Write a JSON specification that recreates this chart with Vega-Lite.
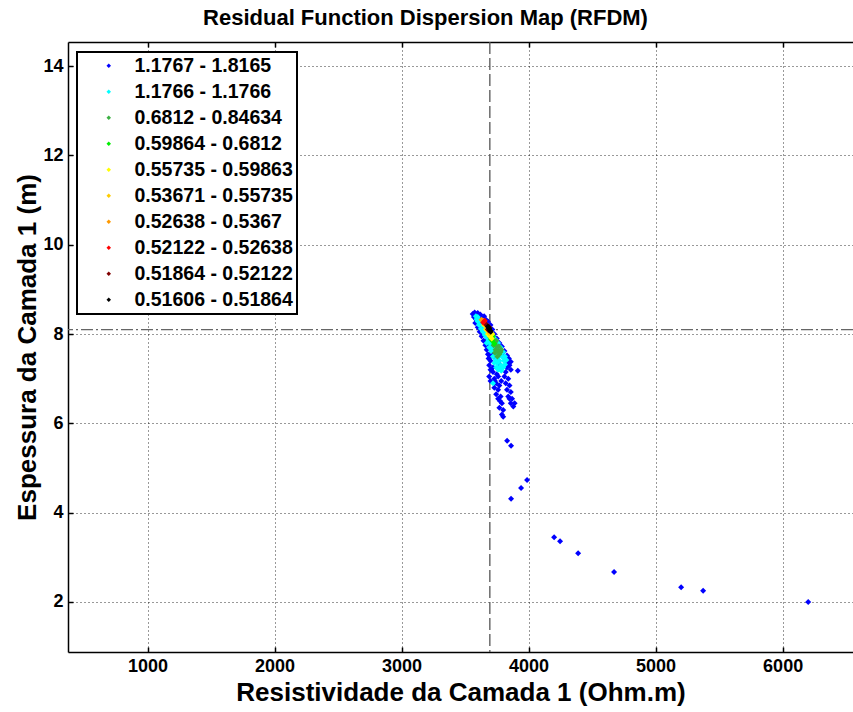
{
  "$schema": "https://vega.github.io/schema/vega-lite/v6.json",
  "width": 785,
  "height": 610,
  "autosize": {"type": "none"},
  "padding": {"left": 68, "top": 42, "right": 0, "bottom": 60},
  "background": "white",
  "title": {"text": "Residual Function Dispersion Map (RFDM)", "font": "Liberation Sans", "fontSize": 22, "fontWeight": "bold", "anchor": "middle", "dx": -35, "offset": 11, "color": "#000"},
  "config": {
    "view": {"stroke": null},
    "axis": {"labelFont": "Liberation Sans", "labelFontWeight": "bold", "labelFontSize": 18, "labelColor": "#000", "titleFont": "Liberation Sans", "titleFontWeight": "bold", "titleFontSize": 26, "titleColor": "#000", "domainColor": "#000", "domainWidth": 1.5, "tickColor": "#000", "tickWidth": 1.5, "tickSize": -5, "gridColor": "#000", "gridDash": [1, 3], "gridOpacity": 0.8, "gridWidth": 1, "format": "d"},
    "legend": {"strokeWidth": 2}
  },
  "layer": [
    {
      "data": {"values": [{"R": 3695}]},
      "mark": {"type": "rule", "color": "#555", "strokeDash": [12, 4], "strokeWidth": 1.3},
      "encoding": {"x": {"field": "R", "type": "quantitative", "scale": {"domain": [374, 6554], "nice": false, "zero": false}, "axis": {"orient": "top", "labels": false, "title": null, "grid": false, "values": [1000, 2000, 3000, 4000, 5000, 6000]}}}
    },
    {
      "data": {"values": [{"E": 8.1}]},
      "mark": {"type": "rule", "color": "#666", "strokeDash": [12, 3, 2, 3], "strokeWidth": 1.3},
      "encoding": {"y": {"field": "E", "type": "quantitative", "scale": {"domain": [0.88, 14.54], "nice": false, "zero": false}, "axis": {"title": "Espessura da Camada 1 (m)", "values": [2, 4, 6, 8, 10, 12, 14], "grid": true, "labelPadding": 10, "titlePadding": 2}}}
    },
    {
      "data": {"values": [
        {"R":3560,"E":8.45,"f":"1.1767 - 1.8165"},{"R":3575,"E":8.48,"f":"1.1767 - 1.8165"},{"R":3590,"E":8.42,"f":"1.1767 - 1.8165"},{"R":3600,"E":8.47,"f":"1.1767 - 1.8165"},{"R":3620,"E":8.44,"f":"1.1767 - 1.8165"},{"R":3570,"E":8.38,"f":"1.1767 - 1.8165"},{"R":3585,"E":8.33,"f":"1.1767 - 1.8165"},{"R":3605,"E":8.30,"f":"1.1767 - 1.8165"},{"R":3630,"E":8.35,"f":"1.1767 - 1.8165"},{"R":3640,"E":8.25,"f":"1.1767 - 1.8165"},{"R":3615,"E":8.20,"f":"1.1767 - 1.8165"},{"R":3650,"E":8.15,"f":"1.1767 - 1.8165"},{"R":3625,"E":8.10,"f":"1.1767 - 1.8165"},{"R":3660,"E":8.05,"f":"1.1767 - 1.8165"},{"R":3640,"E":8.00,"f":"1.1767 - 1.8165"},{"R":3680,"E":7.95,"f":"1.1767 - 1.8165"},{"R":3700,"E":7.90,"f":"1.1767 - 1.8165"},{"R":3660,"E":7.85,"f":"1.1767 - 1.8165"},{"R":3720,"E":7.82,"f":"1.1767 - 1.8165"},{"R":3690,"E":7.75,"f":"1.1767 - 1.8165"},{"R":3740,"E":7.72,"f":"1.1767 - 1.8165"},{"R":3700,"E":7.65,"f":"1.1767 - 1.8165"},{"R":3760,"E":7.65,"f":"1.1767 - 1.8165"},{"R":3720,"E":7.55,"f":"1.1767 - 1.8165"},{"R":3780,"E":7.58,"f":"1.1767 - 1.8165"},{"R":3700,"E":7.50,"f":"1.1767 - 1.8165"},{"R":3800,"E":7.50,"f":"1.1767 - 1.8165"},{"R":3740,"E":7.45,"f":"1.1767 - 1.8165"},{"R":3820,"E":7.42,"f":"1.1767 - 1.8165"},{"R":3700,"E":7.40,"f":"1.1767 - 1.8165"},{"R":3760,"E":7.35,"f":"1.1767 - 1.8165"},{"R":3840,"E":7.35,"f":"1.1767 - 1.8165"},{"R":3690,"E":7.30,"f":"1.1767 - 1.8165"},{"R":3780,"E":7.28,"f":"1.1767 - 1.8165"},{"R":3830,"E":7.25,"f":"1.1767 - 1.8165"},{"R":3850,"E":7.30,"f":"1.1767 - 1.8165"},{"R":3700,"E":7.20,"f":"1.1767 - 1.8165"},{"R":3720,"E":7.15,"f":"1.1767 - 1.8165"},{"R":3750,"E":7.10,"f":"1.1767 - 1.8165"},{"R":3820,"E":7.15,"f":"1.1767 - 1.8165"},{"R":3860,"E":7.20,"f":"1.1767 - 1.8165"},{"R":3915,"E":7.18,"f":"1.1767 - 1.8165"},{"R":3690,"E":7.05,"f":"1.1767 - 1.8165"},{"R":3730,"E":7.00,"f":"1.1767 - 1.8165"},{"R":3760,"E":7.05,"f":"1.1767 - 1.8165"},{"R":3810,"E":7.05,"f":"1.1767 - 1.8165"},{"R":3840,"E":7.00,"f":"1.1767 - 1.8165"},{"R":3700,"E":6.95,"f":"1.1767 - 1.8165"},{"R":3745,"E":6.90,"f":"1.1767 - 1.8165"},{"R":3770,"E":6.85,"f":"1.1767 - 1.8165"},{"R":3820,"E":6.90,"f":"1.1767 - 1.8165"},{"R":3850,"E":6.85,"f":"1.1767 - 1.8165"},{"R":3730,"E":6.80,"f":"1.1767 - 1.8165"},{"R":3760,"E":6.75,"f":"1.1767 - 1.8165"},{"R":3830,"E":6.75,"f":"1.1767 - 1.8165"},{"R":3860,"E":6.70,"f":"1.1767 - 1.8165"},{"R":3745,"E":6.65,"f":"1.1767 - 1.8165"},{"R":3780,"E":6.60,"f":"1.1767 - 1.8165"},{"R":3840,"E":6.60,"f":"1.1767 - 1.8165"},{"R":3870,"E":6.55,"f":"1.1767 - 1.8165"},{"R":3760,"E":6.55,"f":"1.1767 - 1.8165"},{"R":3790,"E":6.45,"f":"1.1767 - 1.8165"},{"R":3860,"E":6.45,"f":"1.1767 - 1.8165"},{"R":3890,"E":6.45,"f":"1.1767 - 1.8165"},{"R":3770,"E":6.35,"f":"1.1767 - 1.8165"},{"R":3800,"E":6.30,"f":"1.1767 - 1.8165"},{"R":3880,"E":6.38,"f":"1.1767 - 1.8165"},{"R":3790,"E":6.20,"f":"1.1767 - 1.8165"},{"R":3800,"E":6.15,"f":"1.1767 - 1.8165"},
        {"R":3580,"E":8.25,"f":"1.1767 - 1.8165"},{"R":3600,"E":8.15,"f":"1.1767 - 1.8165"},{"R":3615,"E":8.05,"f":"1.1767 - 1.8165"},{"R":3630,"E":7.95,"f":"1.1767 - 1.8165"},{"R":3645,"E":7.85,"f":"1.1767 - 1.8165"},{"R":3660,"E":7.75,"f":"1.1767 - 1.8165"},{"R":3670,"E":7.65,"f":"1.1767 - 1.8165"},{"R":3680,"E":7.55,"f":"1.1767 - 1.8165"},{"R":3685,"E":7.45,"f":"1.1767 - 1.8165"},{"R":3650,"E":8.40,"f":"1.1767 - 1.8165"},{"R":3665,"E":8.32,"f":"1.1767 - 1.8165"},{"R":3680,"E":8.28,"f":"1.1767 - 1.8165"},{"R":3700,"E":8.20,"f":"1.1767 - 1.8165"},{"R":3715,"E":8.10,"f":"1.1767 - 1.8165"},{"R":3730,"E":8.00,"f":"1.1767 - 1.8165"},{"R":3750,"E":7.90,"f":"1.1767 - 1.8165"},{"R":3770,"E":7.80,"f":"1.1767 - 1.8165"},{"R":3790,"E":7.72,"f":"1.1767 - 1.8165"},{"R":3810,"E":7.62,"f":"1.1767 - 1.8165"},{"R":3830,"E":7.52,"f":"1.1767 - 1.8165"},{"R":3845,"E":7.45,"f":"1.1767 - 1.8165"},{"R":3860,"E":7.38,"f":"1.1767 - 1.8165"},{"R":3720,"E":7.25,"f":"1.1767 - 1.8165"},{"R":3735,"E":6.95,"f":"1.1767 - 1.8165"},{"R":3785,"E":6.95,"f":"1.1767 - 1.8165"},{"R":3850,"E":6.55,"f":"1.1767 - 1.8165"},{"R":3775,"E":6.50,"f":"1.1767 - 1.8165"},
        {"R":3831,"E":5.61,"f":"1.1767 - 1.8165"},{"R":3862,"E":5.50,"f":"1.1767 - 1.8165"},{"R":3862,"E":4.31,"f":"1.1767 - 1.8165"},{"R":3941,"E":4.55,"f":"1.1767 - 1.8165"},{"R":3988,"E":4.73,"f":"1.1767 - 1.8165"},{"R":4201,"E":3.45,"f":"1.1767 - 1.8165"},{"R":4248,"E":3.36,"f":"1.1767 - 1.8165"},{"R":4390,"E":3.09,"f":"1.1767 - 1.8165"},{"R":4673,"E":2.67,"f":"1.1767 - 1.8165"},{"R":5201,"E":2.33,"f":"1.1767 - 1.8165"},{"R":5374,"E":2.25,"f":"1.1767 - 1.8165"},{"R":6201,"E":2.00,"f":"1.1767 - 1.8165"},
        {"R":3585,"E":8.40,"f":"1.1766 - 1.1766"},{"R":3600,"E":8.38,"f":"1.1766 - 1.1766"},{"R":3610,"E":8.32,"f":"1.1766 - 1.1766"},{"R":3625,"E":8.28,"f":"1.1766 - 1.1766"},{"R":3640,"E":8.20,"f":"1.1766 - 1.1766"},{"R":3655,"E":8.12,"f":"1.1766 - 1.1766"},{"R":3670,"E":8.05,"f":"1.1766 - 1.1766"},{"R":3690,"E":7.98,"f":"1.1766 - 1.1766"},{"R":3705,"E":7.92,"f":"1.1766 - 1.1766"},{"R":3720,"E":7.85,"f":"1.1766 - 1.1766"},{"R":3735,"E":7.78,"f":"1.1766 - 1.1766"},{"R":3750,"E":7.70,"f":"1.1766 - 1.1766"},{"R":3765,"E":7.62,"f":"1.1766 - 1.1766"},{"R":3780,"E":7.55,"f":"1.1766 - 1.1766"},{"R":3795,"E":7.48,"f":"1.1766 - 1.1766"},{"R":3805,"E":7.40,"f":"1.1766 - 1.1766"},{"R":3815,"E":7.32,"f":"1.1766 - 1.1766"},{"R":3800,"E":7.25,"f":"1.1766 - 1.1766"},{"R":3785,"E":7.30,"f":"1.1766 - 1.1766"},{"R":3770,"E":7.40,"f":"1.1766 - 1.1766"},{"R":3760,"E":7.48,"f":"1.1766 - 1.1766"},{"R":3745,"E":7.55,"f":"1.1766 - 1.1766"},{"R":3730,"E":7.62,"f":"1.1766 - 1.1766"},{"R":3715,"E":7.70,"f":"1.1766 - 1.1766"},{"R":3700,"E":7.78,"f":"1.1766 - 1.1766"},{"R":3685,"E":7.85,"f":"1.1766 - 1.1766"},{"R":3670,"E":7.92,"f":"1.1766 - 1.1766"},{"R":3655,"E":7.98,"f":"1.1766 - 1.1766"},{"R":3640,"E":8.05,"f":"1.1766 - 1.1766"},{"R":3625,"E":8.12,"f":"1.1766 - 1.1766"},{"R":3610,"E":8.20,"f":"1.1766 - 1.1766"},{"R":3600,"E":8.28,"f":"1.1766 - 1.1766"},{"R":3590,"E":8.33,"f":"1.1766 - 1.1766"},{"R":3730,"E":7.35,"f":"1.1766 - 1.1766"},{"R":3745,"E":7.25,"f":"1.1766 - 1.1766"},{"R":3760,"E":7.20,"f":"1.1766 - 1.1766"},{"R":3720,"E":6.90,"f":"1.1766 - 1.1766"},
        {"R":3700,"E":8.05,"f":"1.1766 - 1.1766"},{"R":3720,"E":7.95,"f":"1.1766 - 1.1766"},{"R":3740,"E":7.88,"f":"1.1766 - 1.1766"},{"R":3760,"E":7.80,"f":"1.1766 - 1.1766"},{"R":3780,"E":7.70,"f":"1.1766 - 1.1766"},{"R":3800,"E":7.60,"f":"1.1766 - 1.1766"},{"R":3815,"E":7.50,"f":"1.1766 - 1.1766"},{"R":3825,"E":7.42,"f":"1.1766 - 1.1766"},{"R":3670,"E":7.80,"f":"1.1766 - 1.1766"},{"R":3690,"E":7.70,"f":"1.1766 - 1.1766"},{"R":3705,"E":7.62,"f":"1.1766 - 1.1766"},{"R":3720,"E":7.50,"f":"1.1766 - 1.1766"},{"R":3740,"E":7.42,"f":"1.1766 - 1.1766"},{"R":3755,"E":7.35,"f":"1.1766 - 1.1766"},{"R":3770,"E":7.25,"f":"1.1766 - 1.1766"},{"R":3785,"E":7.18,"f":"1.1766 - 1.1766"},
        {"R":3720,"E":7.88,"f":"0.6812 - 0.84634"},{"R":3735,"E":7.80,"f":"0.6812 - 0.84634"},{"R":3750,"E":7.72,"f":"0.6812 - 0.84634"},{"R":3740,"E":7.65,"f":"0.6812 - 0.84634"},{"R":3760,"E":7.62,"f":"0.6812 - 0.84634"},{"R":3770,"E":7.55,"f":"0.6812 - 0.84634"},{"R":3755,"E":7.50,"f":"0.6812 - 0.84634"},{"R":3725,"E":7.75,"f":"0.6812 - 0.84634"},{"R":3780,"E":7.60,"f":"0.6812 - 0.84634"},{"R":3745,"E":7.85,"f":"0.6812 - 0.84634"},{"R":3765,"E":7.72,"f":"0.6812 - 0.84634"},{"R":3785,"E":7.65,"f":"0.6812 - 0.84634"},{"R":3735,"E":7.58,"f":"0.6812 - 0.84634"},
        {"R":3700,"E":7.92,"f":"0.59864 - 0.6812"},{"R":3715,"E":7.85,"f":"0.59864 - 0.6812"},{"R":3730,"E":7.78,"f":"0.59864 - 0.6812"},{"R":3705,"E":7.88,"f":"0.59864 - 0.6812"},{"R":3720,"E":7.95,"f":"0.59864 - 0.6812"},
        {"R":3650,"E":8.20,"f":"0.55735 - 0.59863"},{"R":3665,"E":8.10,"f":"0.55735 - 0.59863"},{"R":3680,"E":8.00,"f":"0.55735 - 0.59863"},{"R":3695,"E":7.95,"f":"0.55735 - 0.59863"},{"R":3685,"E":8.05,"f":"0.55735 - 0.59863"},{"R":3700,"E":7.98,"f":"0.55735 - 0.59863"},{"R":3710,"E":7.90,"f":"0.55735 - 0.59863"},{"R":3715,"E":8.00,"f":"0.55735 - 0.59863"},
        {"R":3640,"E":8.30,"f":"0.53671 - 0.55735"},{"R":3655,"E":8.22,"f":"0.53671 - 0.55735"},{"R":3670,"E":8.12,"f":"0.53671 - 0.55735"},{"R":3690,"E":8.02,"f":"0.53671 - 0.55735"},
        {"R":3630,"E":8.32,"f":"0.52638 - 0.5367"},{"R":3648,"E":8.28,"f":"0.52638 - 0.5367"},{"R":3662,"E":8.20,"f":"0.52638 - 0.5367"},{"R":3678,"E":8.12,"f":"0.52638 - 0.5367"},
        {"R":3642,"E":8.26,"f":"0.52122 - 0.52638"},{"R":3655,"E":8.30,"f":"0.52122 - 0.52638"},{"R":3665,"E":8.22,"f":"0.52122 - 0.52638"},{"R":3688,"E":8.08,"f":"0.52122 - 0.52638"},
        {"R":3670,"E":8.20,"f":"0.51864 - 0.52122"},{"R":3690,"E":8.15,"f":"0.51864 - 0.52122"},{"R":3680,"E":8.10,"f":"0.51864 - 0.52122"},
        {"R":3680,"E":8.17,"f":"0.51606 - 0.51864"},{"R":3690,"E":8.12,"f":"0.51606 - 0.51864"},{"R":3697,"E":8.08,"f":"0.51606 - 0.51864"},{"R":3702,"E":8.05,"f":"0.51606 - 0.51864"},{"R":3686,"E":8.14,"f":"0.51606 - 0.51864"}
      ]},
      "mark": {"type": "point", "filled": true, "shape": "diamond", "size": 36, "opacity": 1},
      "encoding": {
        "x": {"field": "R", "type": "quantitative",
              "axis": {"title": "Resistividade da Camada 1 (Ohm.m)", "values": [1000, 2000, 3000, 4000, 5000, 6000], "grid": true, "labelPadding": 10, "titlePadding": 4, "orient": "bottom"}},
        "y": {"field": "E", "type": "quantitative"},
        "color": {"field": "f", "type": "nominal",
          "scale": {"domain": ["1.1767 - 1.8165", "1.1766 - 1.1766", "0.6812 - 0.84634", "0.59864 - 0.6812", "0.55735 - 0.59863", "0.53671 - 0.55735", "0.52638 - 0.5367", "0.52122 - 0.52638", "0.51864 - 0.52122", "0.51606 - 0.51864"],
                    "range": ["#0000FF", "#00FFFF", "#3CB043", "#00EE00", "#FFFF00", "#FFCC00", "#FF9900", "#FF0000", "#800000", "#000000"]},
          "legend": {"title": null, "orient": "none", "legendX": 9, "legendY": 10, "fillColor": "white", "strokeColor": "black", "padding": 4, "rowPadding": 5, "symbolType": "diamond", "symbolSize": 20, "symbolStrokeWidth": 0, "symbolOffset": 18, "labelOffset": 16, "labelFont": "Liberation Sans", "labelFontSize": 19.5, "labelFontWeight": "bold", "labelColor": "#000", "labelLimit": 400}}
      }
    }
  ],
  "resolve": {"axis": {"x": "independent"}}
}
